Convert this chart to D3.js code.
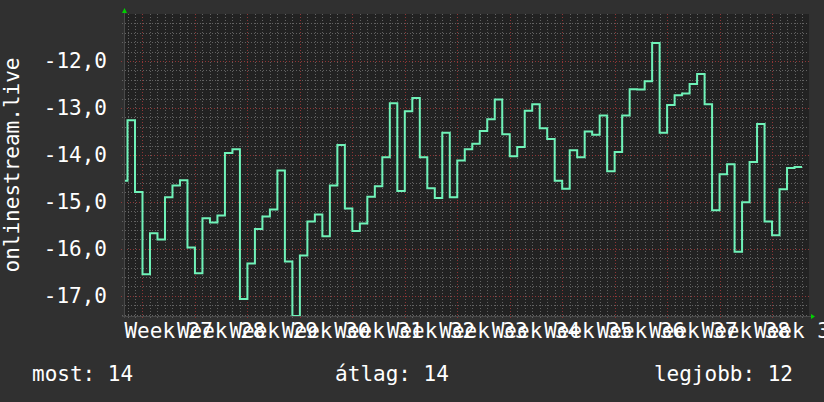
<!DOCTYPE html>
<html>
<head>
<meta charset="utf-8">
<script src="https://cdn.jsdelivr.net/npm/d3@7"></script>
<style>
  html, body { margin: 0; padding: 0; background: #303030; }
  svg { display: block; }
  text { font-family: "DejaVu Sans Mono", monospace; fill: #ffffff; }
</style>
</head>
<body>
<svg id="chart" width="824" height="402"></svg>
<script>
// ---- data (daily values, first value is day -1) ----
const firstDay = -1;
const values = [
  -14.55, -13.26, -14.79, -16.54, -15.67, -15.80, -14.90, -14.65, -14.54, -15.97,
  -16.52, -15.35, -15.44, -15.29, -13.96, -13.88, -17.07, -16.31, -15.58, -15.31,
  -15.16, -14.33, -16.27, -17.43, -16.14, -15.42, -15.27, -15.73, -14.65, -13.79,
  -15.14, -15.62, -15.46, -14.89, -14.67, -14.05, -12.90, -14.77, -13.07, -12.79,
  -14.05, -14.71, -14.92, -13.53, -14.90, -14.12, -13.88, -13.76, -13.49, -13.24,
  -12.82, -13.56, -14.03, -13.83, -13.06, -12.92, -13.43, -13.66, -14.55, -14.72,
  -13.90, -14.05, -13.50, -13.57, -13.16, -14.35, -13.94, -13.16, -12.60, -12.61,
  -12.43, -11.62, -13.53, -12.94, -12.73, -12.69, -12.49, -12.28, -12.92, -15.18,
  -14.41, -14.20, -16.06, -15.01, -14.15, -13.34, -15.42, -15.71, -14.73, -14.28,
  -14.26
];
const weekLabels = ["Week 27","Week 28","Week 29","Week 30","Week 31","Week 32","Week 33",
                    "Week 34","Week 35","Week 36","Week 37","Week 38","Week 39"];
const firstWeekStartDay = 2;
const yTicks = [-17, -16, -15, -14, -13, -12];
const yAxisTitle = "onlinestream.live";
const legendItems = [
  { label: "most", value: "14" },
  { label: "átlag", value: "14" },
  { label: "legjobb", value: "12" }
];

// ---- layout ----
const L = 124, R = 809, T = 14, B = 316;
const svg = d3.select("#chart");

const x = d3.scaleLinear().domain([-0.467, 90.93]).range([L, R]);
const y = d3.scaleLinear().domain([-17.43, -11.0]).range([B, T]);

// plot background
svg.append("rect").attr("x", L).attr("y", T).attr("width", R - L).attr("height", B - T)
  .attr("fill", "#222222");

const grid = svg.append("g");
const minorColor = "#626262", majorColor = "#8e3636";

// minor vertical grid (days)
const dayTicks = d3.range(Math.ceil(x.domain()[0]), Math.floor(x.domain()[1]) + 1);
grid.selectAll("line.vmin").data(dayTicks.filter(d => (d - firstWeekStartDay) % 7 !== 0))
  .join("line")
  .attr("x1", d => Math.round(x(d)) + 0.5).attr("x2", d => Math.round(x(d)) + 0.5)
  .attr("y1", T).attr("y2", B + 2)
  .attr("stroke", minorColor).attr("stroke-width", 1).attr("stroke-dasharray", "1,2");

// minor horizontal grid (0.2 units)
const minorY = d3.range(-17.4, -10.99, 0.2).map(v => Math.round(v * 10) / 10)
  .filter(v => Math.abs(v - Math.round(v)) > 1e-6);
grid.selectAll("line.hmin").data(minorY).join("line")
  .attr("x1", L - 2).attr("x2", R)
  .attr("y1", d => Math.round(y(d)) + 0.5).attr("y2", d => Math.round(y(d)) + 0.5)
  .attr("stroke", minorColor).attr("stroke-width", 1).attr("stroke-dasharray", "1,2");

// major vertical grid (weeks)
const weekStarts = weekLabels.map((_, i) => firstWeekStartDay + 7 * i);
grid.selectAll("line.vmaj").data(weekStarts.filter(d => x(d) < R)).join("line")
  .attr("x1", d => Math.round(x(d)) + 0.5).attr("x2", d => Math.round(x(d)) + 0.5)
  .attr("y1", T).attr("y2", B + 3)
  .attr("stroke", majorColor).attr("stroke-width", 1).attr("stroke-dasharray", "1,2");

// major horizontal grid
grid.selectAll("line.hmaj").data(yTicks).join("line")
  .attr("x1", L - 3).attr("x2", R)
  .attr("y1", d => Math.round(y(d)) + 0.5).attr("y2", d => Math.round(y(d)) + 0.5)
  .attr("stroke", majorColor).attr("stroke-width", 1).attr("stroke-dasharray", "1,2");

// data line
svg.append("clipPath").attr("id", "clip").append("rect")
  .attr("x", L).attr("y", T - 1).attr("width", R - L).attr("height", B - T + 2);
const pts = values.map((v, i) => [firstDay + i, v]);
pts.push([firstDay + values.length, values[values.length - 1]]);
const line = d3.line().x(d => x(d[0])).y(d => y(d[1])).curve(d3.curveStepAfter);
svg.append("path").datum(pts).attr("d", line)
  .attr("clip-path", "url(#clip)")
  .attr("fill", "none").attr("stroke", "#6ff2b8").attr("stroke-width", 2)
  .attr("stroke-linejoin", "miter");

// axes
svg.append("line").attr("x1", L - 2).attr("x2", R + 2).attr("y1", B + 0.5).attr("y2", B + 0.5)
  .attr("stroke", "#4a4a4a").attr("stroke-width", 1);
svg.append("line").attr("x1", L + 0.5).attr("x2", L + 0.5).attr("y1", B + 2).attr("y2", T - 2)
  .attr("stroke", "#4a4a4a").attr("stroke-width", 1);
// arrows
svg.append("path").attr("d", `M${L - 2},${T - 1} L${L + 3},${T - 1} L${L + 0.5},${T - 6} Z`)
  .attr("fill", "#00d000");
svg.append("path").attr("d", `M${R + 2},${B - 2} L${R + 2},${B + 3} L${R + 6},${B + 0.5} Z`)
  .attr("fill", "#00d000");

// y tick labels
svg.selectAll("text.ytick").data(yTicks).join("text")
  .attr("x", 107).attr("y", d => y(d) + 7)
  .attr("text-anchor", "end").attr("font-size", 21)
  .text(d => d3.format(".1f")(d).replace(".", ",").replace("−", "-"));

// x tick labels
svg.selectAll("text.xtick").data(weekLabels).join("text")
  .attr("x", (d, i) => x(weekStarts[i] + 3.5)).attr("y", 338)
  .attr("text-anchor", "middle").attr("font-size", 21)
  .text(d => d);

// y axis title
svg.append("text")
  .attr("transform", `translate(19, ${(T + B) / 2}) rotate(-90)`)
  .attr("text-anchor", "middle").attr("font-size", 21)
  .text(yAxisTitle);

// legend
const legX = [32, 392, 793];
const legAnchor = ["start", "middle", "end"];
svg.selectAll("text.leg").data(legendItems).join("text")
  .attr("x", (d, i) => legX[i]).attr("y", 381)
  .attr("text-anchor", (d, i) => legAnchor[i]).attr("font-size", 21)
  .text(d => `${d.label}: ${d.value}`);
</script>
</body>
</html>
